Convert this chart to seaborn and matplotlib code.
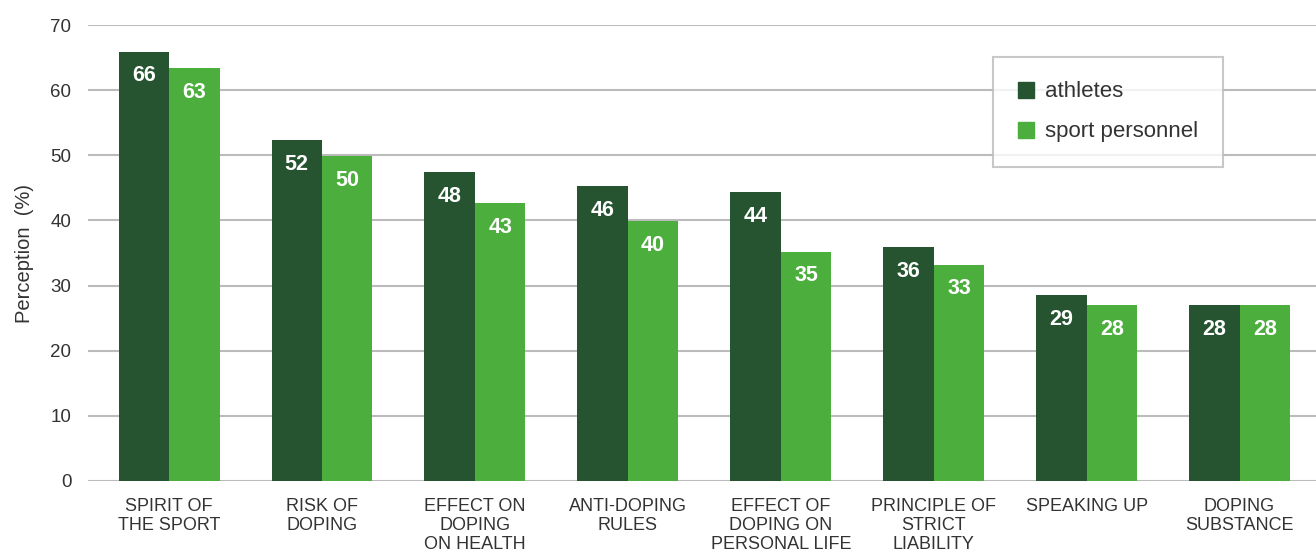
import matplotlib
matplotlib.use("Agg")
import matplotlib.pyplot as plt
import seaborn as sns
import pandas as pd
from matplotlib.lines import Line2D

categories = ["SPIRIT OF\nTHE SPORT", "RISK OF\nDOPING", "EFFECT ON\nDOPING\nON HEALTH",
              "ANTI-DOPING\nRULES", "EFFECT OF\nDOPING ON\nPERSONAL LIFE",
              "PRINCIPLE OF\nSTRICT\nLIABILITY", "SPEAKING UP", "DOPING\nSUBSTANCE"]
series_names = ["athletes", "sport personnel"]
athletes = [65.9, 52.3, 47.4, 45.3, 44.4, 35.9, 28.5, 27.0]
personnel = [63.4, 49.9, 42.7, 39.9, 35.2, 33.2, 27.0, 27.0]
athletes_labels = ["66", "52", "48", "46", "44", "36", "29", "28"]
personnel_labels = ["63", "50", "43", "40", "35", "33", "28", "28"]
yticks = [0, 10, 20, 30, 40, 50, 60, 70]

colors = ["#265430", "#4CAE3C"]

df = pd.DataFrame({
    "category": categories * 2,
    "group": [series_names[0]] * len(categories) + [series_names[1]] * len(categories),
    "value": athletes + personnel,
})

sns.set_style("white")
plt.rcParams["font.family"] = ["Liberation Sans", "DejaVu Sans"]

fig = plt.figure(figsize=(13.16, 5.54), dpi=100)
ax = fig.add_axes([0.0669, 0.1318, 0.9331, 0.823])

sns.barplot(data=df, x="category", y="value", hue="group", palette=colors,
            width=0.66, saturation=1, ax=ax, legend=False, linewidth=0)

ax.set_ylim(0, 70)
ax.set_xlim(-0.53, 7.5)
ax.set_yticks(yticks)
ax.yaxis.grid(True, color="#BBBBBB", linewidth=1.5)
ax.set_axisbelow(True)
for s in ax.spines.values():
    s.set_visible(False)
ax.tick_params(axis="both", length=0, colors="#333333")
ax.tick_params(axis="y", labelsize=13.5, pad=12)
ax.set_xlabel("")
ax.set_ylabel("Perception  (%)", fontsize=14.5, color="#333333", labelpad=12)

ax.set_xticks(range(len(categories)))
ax.set_xticklabels(categories, fontsize=13, color="#333333", linespacing=1.15)
ax.tick_params(axis="x", pad=12)

for cont, labs in zip(ax.containers, [athletes_labels, personnel_labels]):
    ax.bar_label(cont, labels=labs, padding=-25, color="white", fontsize=15.5,
                 fontweight="bold")

handles = [Line2D([0], [0], marker="s", linestyle="", markersize=11,
                  markerfacecolor=c, markeredgecolor=c) for c in colors]
leg = ax.legend(handles, series_names, loc="upper left",
                bbox_to_anchor=(0.737, 0.93), frameon=True, fancybox=False,
                fontsize=16, labelspacing=0.85, handletextpad=0.5,
                borderpad=1.1, handlelength=0.75, borderaxespad=0,
                labelcolor="#333333")
leg.get_frame().set_edgecolor("#BBBBBB")
leg.get_frame().set_linewidth(1.5)

fig.savefig("out.png", dpi=100)
